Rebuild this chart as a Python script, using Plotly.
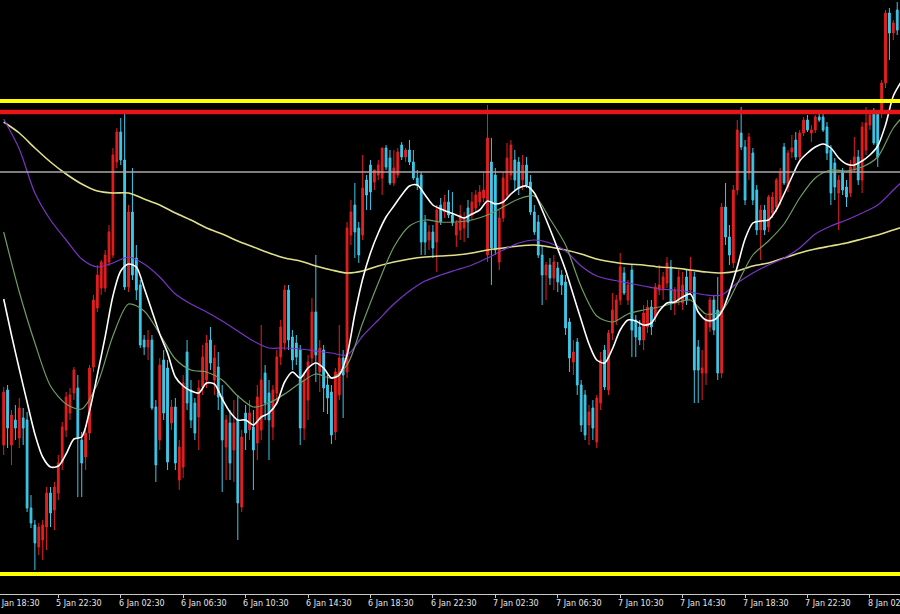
import pandas as pd
import plotly.graph_objects as go

# ---------------- data (price units, M15 candles from 5 Jan 19:00) ----------------
candle_start = "2021-01-05 19:00"

open_ = [155,210,155,180,162,182,180,92,75,53,60,73,107,90,
 107,137,170,187,207,212,160,143,167,233,292,312,312,338,345,438,468,440,313,388,342,315,260,253,260,193,
 160,240,232,177,193,120,133,248,210,197,183,213,220,260,220,233,203,153,177,150,180,93,187,170,173,157,
 170,227,207,173,207,243,257,310,263,257,250,172,200,242,288,228,250,215,208,168,205,242,228,365,395,372,
 365,420,435,418,425,422,452,442,417,425,455,443,450,438,422,425,378,360,368,358,395,388,398,385,365,370,
 372,392,385,392,398,402,345,438,425,338,382,405,425,440,438,420,435,418,388,378,345,325,335,322,332,325,
 318,278,238,258,215,205,175,192,158,197,250,210,267,280,300,327,300,330,280,273,260,273,293,283,310,310,
 317,333,297,300,297,323,310,323,253,227,227,273,300,290,227,393,363,337,410,467,453,427,447,410,370,390,
 373,387,393,400,453,413,448,460,443,467,480,467,470,483,483,473,450,437,407,427,413,407,430,443,420,450,
 475,487,487,487,517,587,567,590]
high = [213,215,190,195,202,192,188,105,80,77,80,113,113,118,
 145,178,208,212,233,225,168,175,235,305,335,340,350,375,452,472,482,486,395,432,355,320,265,270,265,200,
 242,250,240,200,202,160,225,260,220,202,220,255,265,273,255,248,215,185,190,200,205,170,195,200,190,215,
 275,235,220,215,250,280,315,315,270,265,255,228,245,302,345,260,255,225,215,232,275,250,378,400,417,378,
 445,425,440,430,440,452,455,450,450,452,458,452,460,450,430,428,385,375,375,395,402,405,410,408,380,395,
 388,400,408,410,415,428,495,462,432,390,428,457,460,450,443,445,443,425,395,385,355,338,342,345,338,330,
 325,282,260,262,220,210,195,200,205,248,255,270,307,305,347,333,320,335,285,280,295,300,300,317,335,328,
 343,340,313,330,328,330,343,328,260,250,285,303,305,323,397,417,375,415,480,493,460,467,452,415,395,395,
 405,408,422,432,457,450,465,468,470,483,485,475,485,488,486,478,455,442,425,432,420,440,463,450,478,493,
 490,492,490,520,590,592,580,598]
low = [145,152,135,160,152,155,88,72,30,45,40,50,73,70,
 100,130,163,180,200,103,103,130,160,228,288,305,308,334,342,432,435,310,308,320,300,252,245,240,190,118,
 150,180,130,170,130,110,122,190,172,160,150,205,212,230,205,190,108,120,120,118,60,88,150,160,110,140,
 160,180,140,160,195,235,250,250,230,235,155,160,180,235,218,208,188,186,156,160,200,182,222,355,342,337,
 360,390,390,410,420,405,430,415,414,422,440,438,435,420,410,345,345,350,342,328,375,382,382,374,353,360,
 358,362,380,388,394,398,338,315,345,330,378,400,420,410,405,410,412,385,365,342,295,300,315,310,308,305,
 265,228,225,205,168,160,155,160,152,190,210,205,260,275,295,305,295,243,243,255,250,267,265,278,305,300,
 312,290,285,295,290,295,305,197,197,200,215,268,265,220,222,355,335,332,405,450,395,420,395,365,340,365,
 368,382,388,395,415,408,442,440,438,464,468,458,467,478,468,440,395,400,370,405,393,403,428,415,407,445,
 470,455,433,482,512,540,560,565]
close = [208,172,185,172,192,172,92,77,57,73,75,107,87,113,
 137,173,203,205,230,163,137,167,232,300,325,338,345,368,445,468,440,313,388,325,310,255,253,260,192,135,
 235,187,138,193,137,153,217,197,180,167,212,243,257,237,242,203,160,180,137,177,97,163,167,187,150,203,
 220,197,180,210,243,273,310,260,240,243,172,220,238,288,245,252,212,202,165,228,242,225,372,388,368,345,
 412,405,408,430,435,452,433,417,432,448,443,450,438,422,415,358,358,368,352,390,378,398,385,377,377,385,
 382,378,398,405,408,410,462,352,350,382,422,442,455,420,412,435,415,388,368,345,325,335,322,338,318,315,
 272,242,248,215,175,165,188,172,202,240,213,267,290,300,333,307,315,270,263,260,287,293,273,313,315,323,
 337,297,310,323,315,300,330,230,230,232,280,300,270,227,393,363,345,410,470,453,400,463,400,370,390,370,
 403,403,420,427,417,447,452,443,467,480,470,470,483,480,470,447,407,413,420,410,403,433,443,420,473,477,
 485,457,443,517,587,567,577,570]

# moving averages (fast every 30 min, others hourly)
ma_fast = [301,265,231,198,166,143,133,134,146,161,163,189,225,263,304,329,336,333,312,289,266,247,223,214,
 209,207,217,216,201,188,180,180,175,183,187,197,218,228,222,232,237,232,222,225,245,286,321,347,367,383,
 394,405,414,415,405,395,391,388,385,382,386,390,399,396,398,406,412,414,407,390,371,351,330,305,280,256,
 240,237,251,270,280,279,275,277,289,297,298,303,306,288,280,280,288,308,333,361,377,379,380,390,406,423,
 439,447,453,456,452,442,436,435,439,445,454,475,504,518]
ma_mid = [368,308,257,214,196,191,216,264,296,289,266,241,230,228,220,204,193,197,206,217,226,222,235,277,
 317,353,374,380,378,378,380,385,393,401,404,381,355,313,284,278,286,290,293,297,300,286,289,316,345,359,
 376,402,422,430,429,433,443,472,490]
ma_slow = [481,451,407,380,360,341,333,337,343,336,323,306,296,288,279,269,259,252,252,251,249,247,245,264,
 280,296,309,319,325,330,335,342,350,357,360,357,349,334,324,320,317,314,311,310,308,305,305,317,327,335,
 342,352,366,374,380,387,395,410,425]
ma_long = [478,467,452,438,426,416,409,407,407,401,395,387,380,372,366,359,353,347,342,339,334,330,327,329,
 334,338,341,343,344,345,347,350,352,354,355,353,350,346,341,338,336,335,333,332,330,328,327,329,334,337,
 342,347,351,354,357,361,365,370,375]

# horizontal levels
level_values = [499, 488, 428, 26]
level_colors = ["#ffff00", "#e8141c", "#a8a8a8", "#ffff00"]
level_widths = [4, 4.5, 1.3, 4]

# time-axis labels every 4 hours (first and last are cut by the chart edges)
tick_times = pd.date_range("2021-01-05 18:30", "2021-01-08 02:30", freq="4h")
tick_labels = [f"{t.day} Jan {t:%H:%M}" for t in tick_times]

# ---------------- figure ----------------
times = pd.date_range(candle_start, periods=len(open_), freq="15min")
t_fast = pd.date_range(candle_start, periods=len(ma_fast), freq="30min")
t_hour = pd.date_range(candle_start, periods=len(ma_mid), freq="60min")

x0 = pd.Timestamp("2021-01-05 18:45:52")
x1 = pd.Timestamp("2021-01-08 04:25:40")

RED = "#e61e1e"
CYAN = "#3cc8e8"

fig = go.Figure()
fig.add_trace(go.Candlestick(
    x=times, open=open_, high=high, low=low, close=close,
    increasing=dict(line=dict(color=RED, width=1), fillcolor=RED),
    decreasing=dict(line=dict(color=CYAN, width=1), fillcolor=CYAN),
    whiskerwidth=0, hoverinfo="skip", showlegend=False))

for vals, tt, col, w in [(ma_long, t_hour, "#e0e08c", 1.6),
                         (ma_slow, t_hour, "#7a34c8", 1.2),
                         (ma_mid, t_hour, "#6f9c62", 1.2),
                         (ma_fast, t_fast, "#ffffff", 1.6)]:
    fig.add_trace(go.Scatter(x=tt, y=vals, mode="lines",
                             line=dict(color=col, width=w, shape="spline", smoothing=0.8),
                             hoverinfo="skip", showlegend=False))

shapes = []
for v, c, w in zip(level_values, level_colors, level_widths):
    shapes.append(dict(type="line", xref="paper", x0=0, x1=1, yref="y", y0=v, y1=v,
                       line=dict(color=c, width=w), layer="above"))

# tick labels as left-anchored texts starting at each tick (as in the terminal)
ann = []
for t, lab in zip(tick_times, tick_labels):
    frac = (t - x0) / (x1 - x0)
    ann.append(dict(xref="paper", yref="paper", x=frac, y=0, yanchor="top", xanchor="left",
                    xshift=-2.2, yshift=-4.5, borderpad=0, borderwidth=0,
                    text=lab, showarrow=False,
                    font=dict(family="DejaVu Sans", size=8, color="#e6e6e6")))

fig.update_layout(
    width=900, height=614,
    margin=dict(l=0, r=0, t=0, b=20),
    paper_bgcolor="#000000", plot_bgcolor="#000000",
    shapes=shapes, annotations=ann,
    boxgap=0.35,
    xaxis=dict(type="date", range=[x0, x1], rangeslider=dict(visible=False),
               showgrid=False, zeroline=False,
               tickvals=list(tick_times), showticklabels=False,
               ticks="outside", ticklen=3, tickcolor="#c8c8c8", tickwidth=1,
               showline=True, linecolor="#c8c8c8", linewidth=1),
    yaxis=dict(range=[6, 600], showgrid=False, zeroline=False, showticklabels=False,
               ticks="", showline=False),
    hovermode=False,
)

fig.write_html("out.html", config={"displayModeBar": False},
               post_script="document.body.style.margin='0';document.body.style.background='#000';")
